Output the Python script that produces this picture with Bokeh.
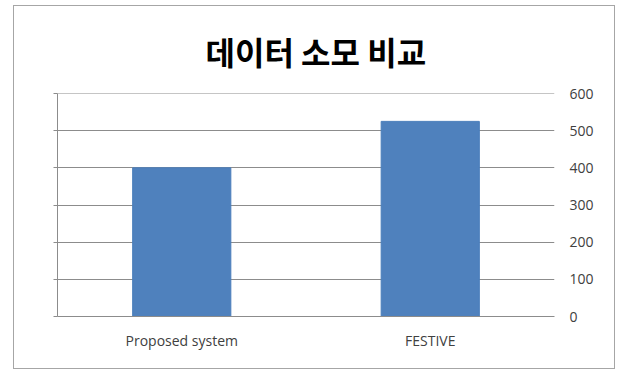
from bokeh.plotting import figure
from bokeh.models import LinearAxis, Range1d, FactorRange, FixedTicker, ColumnDataSource, Span
from bokeh.embed import file_html
from bokeh.resources import INLINE

title_text = "데이터 소모 비교"
categories = ["Proposed system", "FESTIVE"]
values = [400, 525]
y_ticks = [0, 100, 200, 300, 400, 500, 600]

source = ColumnDataSource(dict(cat=categories, val=values))

p = figure(width=602, height=364, x_range=FactorRange(*categories, range_padding=0),
           y_range=Range1d(y_ticks[0], y_ticks[-1]), output_backend="svg", toolbar_location=None,
           y_axis_location=None, min_border_left=43, min_border_right=62,
           min_border_top=86, min_border_bottom=54)
p.styles = {"border": "1px solid #a6a6a6", "margin-left": "13px", "margin-top": "5px"}

p.title.text = title_text
p.title.text_font = "Noto Sans CJK KR"
p.title.text_font_size = "32px"
p.title.text_font_style = "bold"
p.title.text_color = "#000000"
p.title.align = "left"
p.title.offset = 148
p.title.standoff = 39

p.vbar(x="cat", top="val", width=0.395, source=source,
       fill_color="#4F81BD", line_color="#4A7EBB", line_width=1)

# right axis with labels
ra = LinearAxis(ticker=FixedTicker(ticks=y_ticks))
ra.axis_line_color = None
ra.major_tick_line_color = None
ra.major_tick_out = 0
ra.major_tick_in = 0
ra.minor_tick_line_color = None
ra.major_label_standoff = 15
ra.major_label_text_font = "Open Sans"
ra.major_label_text_font_size = "14px"
ra.major_label_text_color = "#404040"
p.add_layout(ra, "right")

# left spine with ticks, no labels
la = LinearAxis(ticker=FixedTicker(ticks=y_ticks))
la.axis_line_color = "#8c8c8c"
la.major_tick_line_color = "#8c8c8c"
la.major_tick_out = 4
la.major_tick_in = 0
la.minor_tick_line_color = None
la.major_label_overrides = {t: "" for t in y_ticks}
la.major_label_standoff = 0
p.add_layout(la, "left")

xa = p.xaxis[0]
xa.axis_line_color = "#8c8c8c"
xa.major_tick_line_color = None
xa.major_tick_out = 0
xa.minor_tick_line_color = None
xa.major_label_standoff = 14
xa.major_label_text_font = "Open Sans"
xa.major_label_text_font_size = "14px"
xa.major_label_text_color = "#404040"

p.xgrid.grid_line_color = None
p.ygrid.ticker = FixedTicker(ticks=y_ticks)
p.ygrid.grid_line_color = "#8c8c8c"
p.ygrid.grid_line_width = 1
p.add_layout(Span(location=y_ticks[-1], dimension="width", line_color="#8c8c8c", line_width=1))
p.outline_line_color = None

open("out.html", "w").write(file_html(p, INLINE))
